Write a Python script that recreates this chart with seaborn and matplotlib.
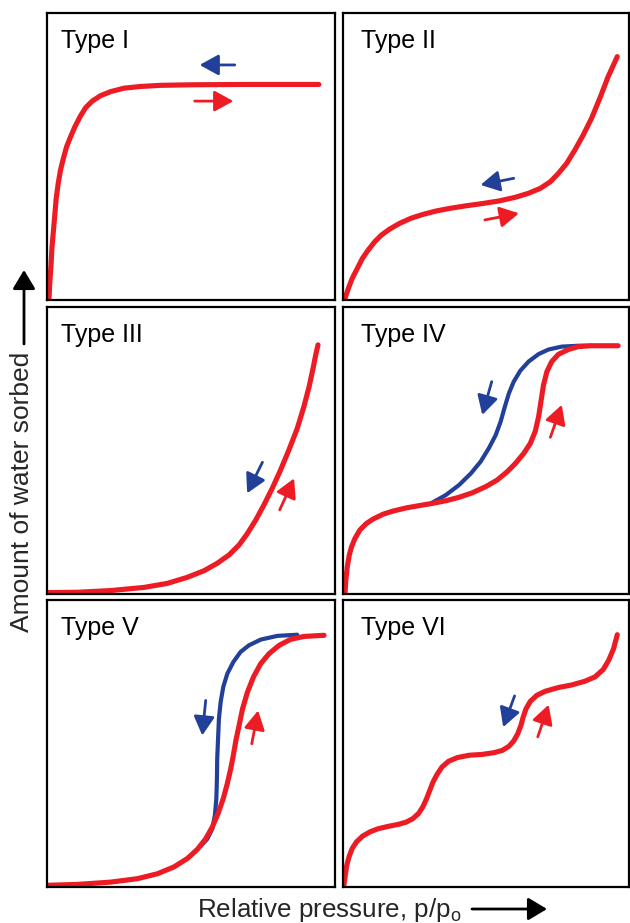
import numpy as np
import pandas as pd
import matplotlib
matplotlib.use("Agg")
import matplotlib.pyplot as plt
import seaborn as sns

# ---------------- data (normalised p/p0, normalised amount sorbed) ----------------
panel_titles = ["Type I", "Type II", "Type III", "Type IV", "Type V", "Type VI"]

type1_x = [0.007, 0.010, 0.014, 0.017, 0.022, 0.027, 0.032, 0.039, 0.047, 0.057, 0.068, 0.082, 0.097, 0.115,
           0.134, 0.157, 0.186, 0.221, 0.267, 0.325, 0.395, 0.510, 0.684, 0.944]
type1_y = [0.006, 0.064, 0.122, 0.180, 0.238, 0.296, 0.354, 0.407, 0.453, 0.494, 0.534, 0.569, 0.604, 0.639,
           0.670, 0.693, 0.712, 0.726, 0.738, 0.744, 0.748, 0.750, 0.751, 0.751]

type2_x = [0.007, 0.019, 0.032, 0.050, 0.068, 0.088, 0.111, 0.134, 0.163, 0.198, 0.238, 0.279, 0.325, 0.372, 0.429,
           0.487, 0.545, 0.603, 0.649, 0.690, 0.725, 0.753, 0.782, 0.811, 0.840, 0.869, 0.898, 0.927, 0.959]
type2_y = [0.006, 0.041, 0.075, 0.110, 0.145, 0.174, 0.203, 0.226, 0.247, 0.267, 0.285, 0.298, 0.310, 0.319, 0.328,
           0.336, 0.345, 0.358, 0.372, 0.389, 0.412, 0.441, 0.476, 0.523, 0.575, 0.633, 0.703, 0.778, 0.848]

type3_x = [0.001, 0.105, 0.221, 0.337, 0.418, 0.487, 0.545, 0.591, 0.632, 0.667, 0.696, 0.725, 0.753, 0.782, 0.811,
           0.840, 0.869, 0.892, 0.910, 0.925, 0.933, 0.941]
type3_y = [0.005, 0.006, 0.012, 0.023, 0.037, 0.058, 0.081, 0.107, 0.136, 0.171, 0.211, 0.258, 0.310, 0.368, 0.432,
           0.502, 0.577, 0.653, 0.722, 0.792, 0.833, 0.868]

type4_ads_x = [0.007, 0.010, 0.015, 0.022, 0.030, 0.042, 0.059, 0.082, 0.105, 0.140, 0.175, 0.221, 0.267, 0.314,
               0.360, 0.406, 0.453, 0.499, 0.539, 0.574, 0.603, 0.632, 0.655, 0.672, 0.684, 0.693, 0.701, 0.713,
               0.730, 0.753, 0.788, 0.823, 0.869, 0.962]
type4_ads_y = [0.002, 0.049, 0.095, 0.136, 0.165, 0.194, 0.223, 0.246, 0.261, 0.278, 0.289, 0.300, 0.308, 0.316,
               0.325, 0.337, 0.353, 0.374, 0.397, 0.426, 0.455, 0.490, 0.525, 0.566, 0.618, 0.676, 0.728, 0.775,
               0.810, 0.835, 0.852, 0.862, 0.865, 0.865]
type4_des_x = [0.308, 0.360, 0.406, 0.447, 0.481, 0.510, 0.534, 0.551, 0.566, 0.580, 0.597, 0.620, 0.649, 0.684,
               0.719, 0.765, 0.823, 0.869]
type4_des_y = [0.316, 0.345, 0.380, 0.420, 0.461, 0.508, 0.554, 0.600, 0.653, 0.699, 0.740, 0.778, 0.810, 0.836,
               0.852, 0.862, 0.865, 0.865]

type5_ads_x = [0.001, 0.105, 0.221, 0.314, 0.383, 0.441, 0.487, 0.522, 0.551, 0.574, 0.594, 0.612, 0.626, 0.638,
               0.647, 0.656, 0.667, 0.679, 0.696, 0.717, 0.742, 0.771, 0.806, 0.846, 0.892, 0.962]
type5_ads_y = [0.006, 0.009, 0.017, 0.029, 0.046, 0.070, 0.099, 0.131, 0.168, 0.209, 0.256, 0.308, 0.360, 0.412,
               0.459, 0.511, 0.563, 0.621, 0.679, 0.732, 0.778, 0.813, 0.842, 0.863, 0.873, 0.877]
type5_des_x = [0.534, 0.557, 0.574, 0.583, 0.588, 0.590, 0.591, 0.594, 0.597, 0.603, 0.612, 0.626, 0.647, 0.672,
               0.701, 0.742, 0.800, 0.869]
type5_des_y = [0.143, 0.168, 0.203, 0.250, 0.308, 0.377, 0.447, 0.517, 0.587, 0.645, 0.697, 0.743, 0.784, 0.819,
               0.842, 0.862, 0.875, 0.879]

type6_x = [0.003, 0.008, 0.013, 0.021, 0.032, 0.047, 0.068, 0.094, 0.123, 0.157, 0.192, 0.221, 0.244, 0.264, 0.279,
           0.291, 0.302, 0.314, 0.328, 0.346, 0.369, 0.400, 0.441, 0.487, 0.528, 0.557, 0.580, 0.597, 0.611, 0.622,
           0.630, 0.640, 0.655, 0.678, 0.707, 0.753, 0.800, 0.846, 0.881, 0.910, 0.929, 0.946, 0.959]
type6_y = [0.006, 0.041, 0.075, 0.105, 0.134, 0.157, 0.177, 0.192, 0.203, 0.211, 0.218, 0.226, 0.238, 0.256, 0.279,
           0.305, 0.333, 0.364, 0.391, 0.418, 0.438, 0.451, 0.459, 0.462, 0.468, 0.476, 0.490, 0.509, 0.534, 0.563,
           0.592, 0.621, 0.647, 0.668, 0.682, 0.695, 0.704, 0.717, 0.732, 0.758, 0.790, 0.830, 0.879]

# direction arrows: (tail_x, tail_y, tip_x, tip_y)
des_arrows = [(0.652, 0.819, 0.530, 0.819), (0.597, 0.424, 0.481, 0.401), (0.748, 0.459, 0.695, 0.351),
              (0.520, 0.740, 0.487, 0.624), (0.551, 0.650, 0.539, 0.528), (0.600, 0.666, 0.560, 0.557)]
ads_arrows = [(0.513, 0.693, 0.647, 0.693), (0.496, 0.279, 0.615, 0.302), (0.808, 0.293, 0.858, 0.403),
              (0.725, 0.546, 0.765, 0.659), (0.711, 0.499, 0.733, 0.615), (0.681, 0.523, 0.719, 0.635)]

x_label = "Relative pressure, p/p$_\\mathregular{o}$"
y_label = "Amount of water sorbed"

# ---------------- style ----------------
RED = "#ED1C24"
BLUE = "#22409A"
sns.set_style("white")
plt.rcParams["font.family"] = ["Liberation Sans", "DejaVu Sans"]
plt.rcParams["axes.edgecolor"] = "black"

W, H = 630, 923
fig = plt.figure(figsize=(W / 100, H / 100), dpi=100)

col_left = [47, 343]
col_width = [288, 286]
row_top = [13, 307, 600]
row_h = 287
title_dx = [0.048, 0.062]
TITLE_FS = 18
LABEL_FS = 19

ads_curves = [(type1_x, type1_y), (type2_x, type2_y), (type3_x, type3_y),
              (type4_ads_x, type4_ads_y), (type5_ads_x, type5_ads_y), (type6_x, type6_y)]
des_curves = [None, None, None, (type4_des_x, type4_des_y), (type5_des_x, type5_des_y), None]

HEAD = "-|>,head_length=1.0,head_width=0.55"


def draw_arrow(ax, a, color):
    ax.annotate("", xy=(a[2], a[3]), xytext=(a[0], a[1]), xycoords="data",
                arrowprops=dict(arrowstyle=HEAD, mutation_scale=11.5, color=color, lw=2.0,
                                shrinkA=0, shrinkB=0))


for i in range(6):
    r, c = divmod(i, 2)
    left = col_left[c] / W
    bottom = (H - (row_top[r] + row_h)) / H
    ax = fig.add_axes([left, bottom, col_width[c] / W, row_h / H])
    if des_curves[i] is not None:
        dx, dy = des_curves[i]
        sns.lineplot(data=pd.DataFrame({"x": dx, "y": dy}), x="x", y="y", sort=False,
                     estimator=None, color=BLUE, linewidth=3.0, ax=ax,
                     solid_capstyle="round", solid_joinstyle="round")
    axx, ayy = ads_curves[i]
    sns.lineplot(data=pd.DataFrame({"x": axx, "y": ayy}), x="x", y="y", sort=False,
                 estimator=None, color=RED, linewidth=3.7, ax=ax,
                 solid_capstyle="round", solid_joinstyle="round")
    draw_arrow(ax, des_arrows[i], BLUE)
    draw_arrow(ax, ads_arrows[i], RED)
    ax.set_xlim(0, 1)
    ax.set_ylim(0, 1)
    ax.set_xticks([])
    ax.set_yticks([])
    ax.set_xlabel("")
    ax.set_ylabel("")
    for s in ax.spines.values():
        s.set_visible(True)
        s.set_color("black")
        s.set_linewidth(1.6)
    ax.text(title_dx[c], 0.878, panel_titles[i], transform=ax.transAxes,
            fontsize=TITLE_FS, ha="left", va="baseline", color="black")

# global axis labels with arrows
fig.text(197 / W, (H - 917) / H, x_label, fontsize=18.7, ha="left", va="baseline")
fig.add_artist(matplotlib.patches.FancyArrowPatch(
    (472 / W, (H - 909) / H), (547 / W, (H - 909) / H), transform=fig.transFigure,
    arrowstyle="-|>,head_length=1.0,head_width=0.6", mutation_scale=11.5,
    color="black", lw=2.0, shrinkA=0, shrinkB=0))

fig.text(22 / W, (H - 632) / H, y_label, fontsize=LABEL_FS, rotation=90,
         ha="center", va="bottom")
fig.add_artist(matplotlib.patches.FancyArrowPatch(
    (24 / W, (H - 344) / H), (24 / W, (H - 270) / H), transform=fig.transFigure,
    arrowstyle="-|>,head_length=1.0,head_width=0.6", mutation_scale=11.5,
    color="black", lw=2.0, shrinkA=0, shrinkB=0))

fig.savefig("out.png", dpi=100, facecolor="white")
